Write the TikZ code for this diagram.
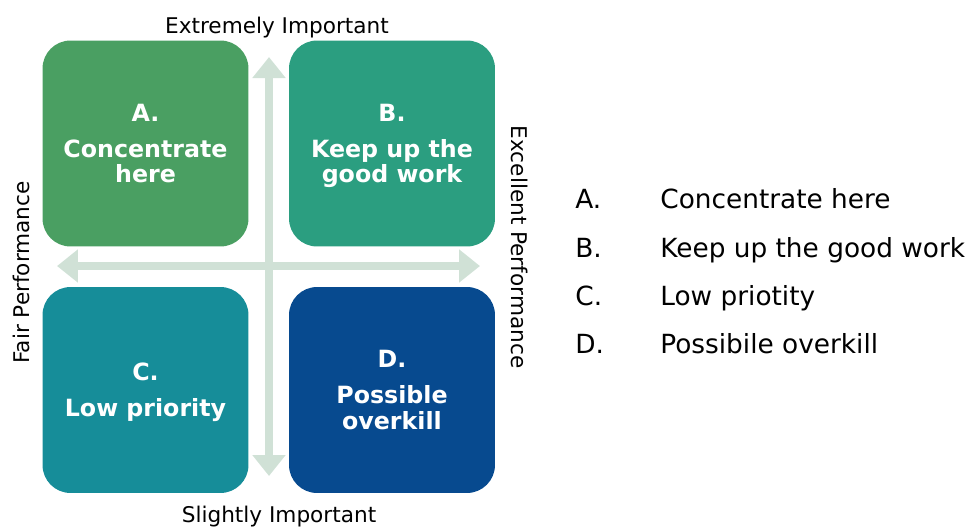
\documentclass[tikz,border=0pt]{standalone}
\usepackage{fontspec}
\setmainfont{DejaVu Sans}
\usetikzlibrary{arrows.meta,positioning}

\definecolor{quadA}{RGB}{74,159,98}
\definecolor{quadB}{RGB}{43,158,128}
\definecolor{quadC}{RGB}{22,141,153}
\definecolor{quadD}{RGB}{7,74,143}
\definecolor{axiscol}{RGB}{208,225,214}

\begin{document}
\begin{tikzpicture}[x=0.02cm,y=-0.02cm,
  quad/.style={rounded corners=0.56cm,minimum width=4.12cm,minimum height=4.12cm,
    inner sep=0pt,text depth=0pt,align=center,text=white,
    font=\bfseries\fontsize{13.5}{14.7}\selectfont},
  axis/.style={draw=axiscol,line width=0.16cm,
    {Triangle[width=0.64cm,length=0.42cm]}-{Triangle[width=0.64cm,length=0.42cm]}},
  lbl/.style={inner sep=0pt,font=\fontsize{12.3}{14}\selectfont},
  item/.style={anchor=base west,inner sep=0pt,font=\fontsize{15}{18}\selectfont}]
\useasboundingbox (0,0) rectangle (974,528);
% axes
\coordinate (left) at (57,266);
\coordinate (right) at (480,266);
\coordinate (up) at (269,57);
\coordinate (down) at (269,476);
\draw[axis] (left) -- (right);
\draw[axis] (down) -- (up);
% quadrants
\node[quad,fill=quadA] (A) at (145.5,143.5) {A.\\[5.7pt]Concentrate\\here};
\node[quad,fill=quadB] (B) at (392,143.5) {B.\\[5.7pt]Keep up the\\good work};
\node[quad,fill=quadC] (C) at (145.5,390) {C.\\[5.7pt]Low priority};
\node[quad,fill=quadD] (D) at (392,390) {D.\\[5.7pt]Possible\\overkill};
% axis labels
\node[lbl,anchor=base] (top) at (277,33) {Extremely Important};
\node[lbl,anchor=base] (bottom) at (279,522) {Slightly Important};
\node[lbl,rotate=90] (fair) at (21,272.5) {Fair Performance};
\node[lbl,rotate=-90] (excellent) at (520,247) {Excellent Performance};
% legend
\node[item] (keyA) at (575,208) {A.};
\node[item] (txtA) at (660,208) {Concentrate here};
\node[item] (keyB) at (575,257) {B.};
\node[item] (txtB) at (660,257) {Keep up the good work};
\node[item] (keyC) at (575,305) {C.};
\node[item] (txtC) at (660,305) {Low priotity};
\node[item] (keyD) at (575,353) {D.};
\node[item] (txtD) at (660,353) {Possibile overkill};
\end{tikzpicture}
\end{document}
